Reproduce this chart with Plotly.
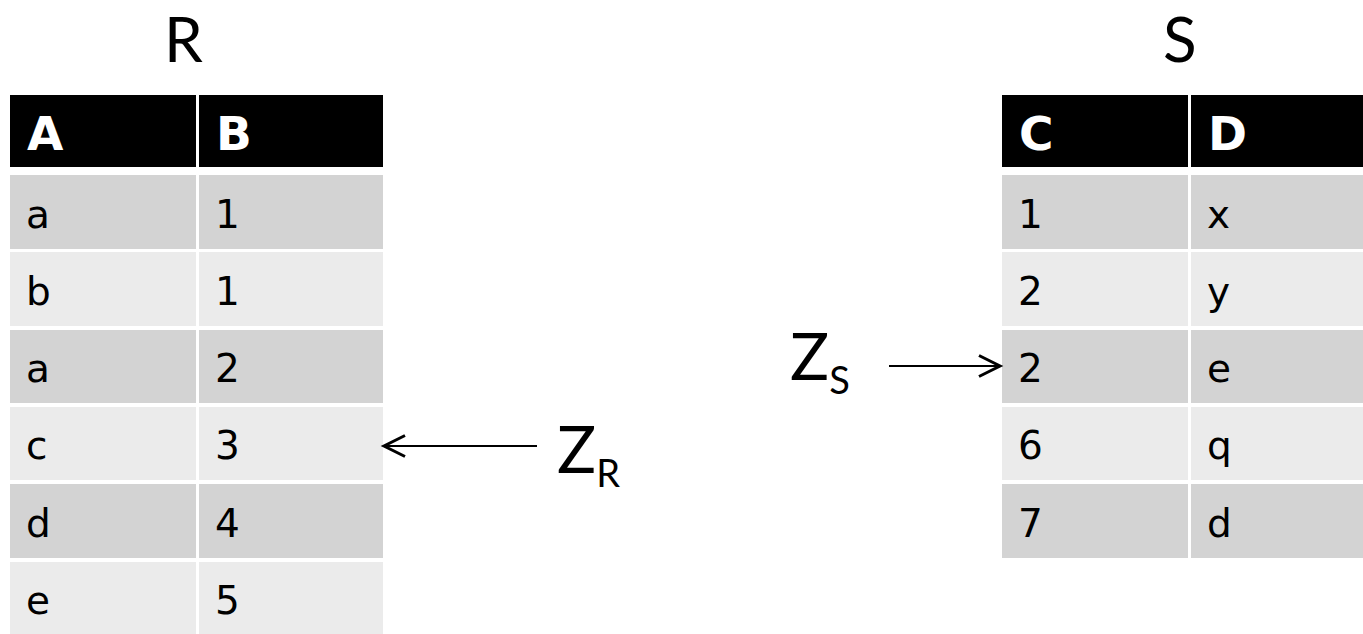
import plotly.graph_objects as go

W, H = 1363, 634

# ---------------- data ----------------
r_title = "R"
r_columns = ["A", "B"]
r_col_a = ["a", "b", "a", "c", "d", "e"]
r_col_b = ["1", "1", "2", "3", "4", "5"]

s_title = "S"
s_columns = ["C", "D"]
s_col_c = ["1", "2", "2", "6", "7"]
s_col_d = ["x", "y", "e", "q", "d"]

z_r_label = ("Z", "R")
z_s_label = ("Z", "S")

# ---------------- styling / geometry ----------------
HEADER_BG = "#000000"
ODD_BG = "#d3d3d3"
EVEN_BG = "#ebebeb"
BODY_FONT = dict(family="DejaVu Sans", size=39, color="#000000")
HEAD_FONT = dict(family="DejaVu Sans", size=47, color="#ffffff")
TITLE_FONT = dict(family="Lato", size=62, color="#000000")
Z_FONT = dict(family="Lato", size=65, color="#000000")

HEAD_TOP, HEAD_BOTTOM = 95, 167
BODY_TOP, ROW_PITCH, ROW_FILL = 175, 77.3, 73.5
COL_W, COL_GAP = 186, 3
TEXT_PAD = 16

fig = go.Figure()


def add_table(columns, cols, left, last_width=None):
    n = len(cols[0])
    head_c = (HEAD_TOP + HEAD_BOTTOM) / 2
    row_c = [BODY_TOP + i * ROW_PITCH + ROW_FILL / 2 for i in range(n)]
    colors = [ODD_BG if i % 2 == 0 else EVEN_BG for i in range(n)]
    for j, (name, col) in enumerate(zip(columns, cols)):
        x0 = left + j * (COL_W + COL_GAP)
        w = COL_W if (j < len(cols) - 1 or last_width is None) else last_width
        fig.add_trace(go.Bar(
            orientation="h",
            y=[head_c] + row_c,
            x=[w] * (n + 1),
            base=[x0] * (n + 1),
            width=[HEAD_BOTTOM - HEAD_TOP] + [ROW_FILL] * n,
            marker=dict(color=[HEADER_BG] + colors, line=dict(width=0)),
            hoverinfo="skip",
            showlegend=False,
        ))
        fig.add_trace(go.Scatter(
            x=[x0 + TEXT_PAD + 1], y=[head_c + 7],
            mode="text", text=["<b>" + name + "</b>"],
            textposition="middle right", textfont=HEAD_FONT,
            hoverinfo="skip", showlegend=False,
        ))
        fig.add_trace(go.Scatter(
            x=[x0 + TEXT_PAD] * n, y=[c + 6 for c in row_c],
            mode="text", text=col,
            textposition="middle right", textfont=BODY_FONT,
            hoverinfo="skip", showlegend=False,
        ))


add_table(r_columns, [r_col_a, r_col_b], 10, last_width=184)
add_table(s_columns, [s_col_c, s_col_d], 1002, last_width=186)

ann = []
for txt, xc in ((r_title, 183), (s_title, 1180)):
    ann.append(dict(x=xc, y=0, xref="x", yref="y", text=txt, font=TITLE_FONT,
                    showarrow=False, xanchor="center", yanchor="top", borderpad=0))


def zlabel(parts):
    return parts[0] + "<sub><span style='font-size:38px'>" + parts[1] + "</span></sub>"


ann.append(dict(x=555, y=452, xref="x", yref="y", text=zlabel(z_r_label), font=Z_FONT,
                showarrow=False, xanchor="left", yanchor="middle"))
ann.append(dict(x=788, y=359, xref="x", yref="y", text=zlabel(z_s_label), font=Z_FONT,
                showarrow=False, xanchor="left", yanchor="middle"))

# arrows: (tail_x, head_x, y)
arrows = [(537, 384, 446), (889, 1000, 366)]
shapes = []
for tx, hx, yy in arrows:
    d = 1 if hx > tx else -1
    shapes.append(dict(type="line", xref="x", yref="y", x0=tx, x1=hx - d * 1, y0=yy, y1=yy,
                       line=dict(color="#000000", width=2)))
    shapes.append(dict(type="path", xref="x", yref="y",
                       path=f"M{hx - d * 21},{yy - 10.5} L{hx},{yy} L{hx - d * 21},{yy + 10.5}",
                       line=dict(color="#000000", width=3)))

fig.update_layout(
    width=W, height=H,
    margin=dict(l=0, r=0, t=0, b=0),
    paper_bgcolor="#ffffff",
    plot_bgcolor="#ffffff",
    barmode="overlay",
    bargap=0,
    xaxis=dict(range=[0, W], visible=False, fixedrange=True),
    yaxis=dict(range=[H, 0], visible=False, fixedrange=True),
    annotations=ann,
    shapes=shapes,
    showlegend=False,
)

fig.write_html(
    "out.html",
    config={"displayModeBar": False},
    post_script="document.body.style.margin='0';document.body.style.overflow='hidden';",
)
